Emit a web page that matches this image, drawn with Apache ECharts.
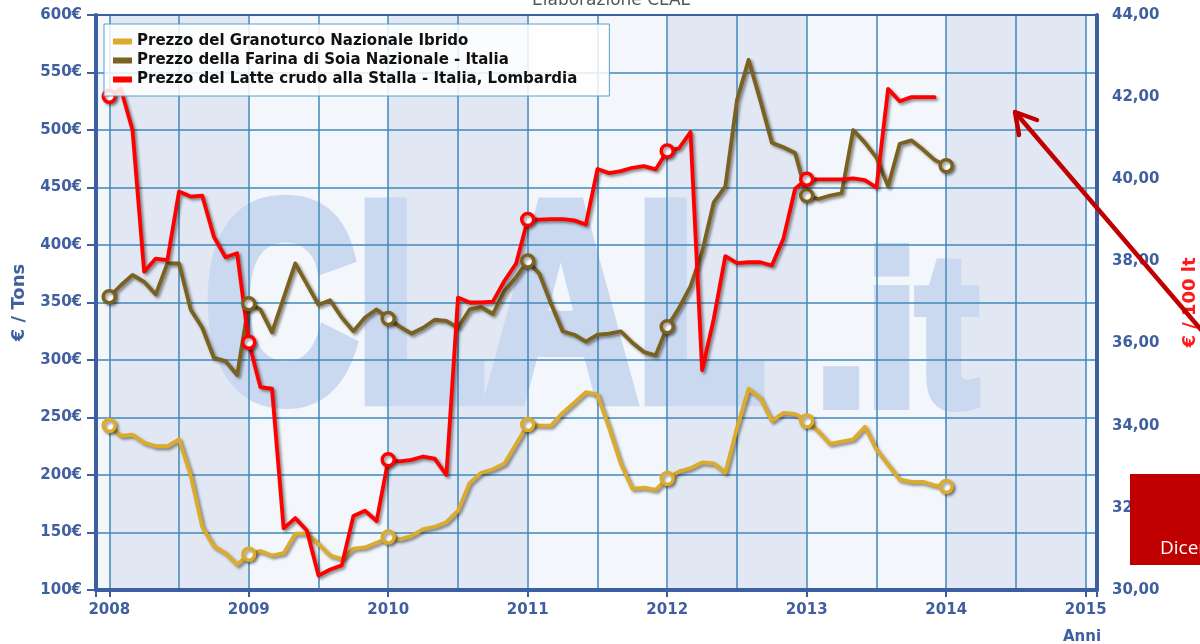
<!DOCTYPE html>
<html>
<head>
<meta charset="utf-8">
<title>Elaborazione CLAL</title>
<script src="https://cdn.jsdelivr.net/npm/echarts@6/dist/echarts.min.js"></script>
<style>
html, body { margin: 0; padding: 0; background: #fff; }
#container { width: 1200px; height: 644px; }
</style>
</head>
<body>
<div id="container"></div>
<script>
// dati mensili da gennaio 2008
var annoInizio = 2008;
var anni = [2008, 2009, 2010, 2011, 2012, 2013, 2014, 2015];
var nomi = ['Prezzo del Granoturco Nazionale Ibrido', 'Prezzo della Farina di Soia Nazionale - Italia', 'Prezzo del Latte crudo alla Stalla - Italia, Lombardia'];
var colori = ['#dcab2a', '#7a6120', '#ff0000'];

// €/ton
var granoturco = [243, 234, 235, 228, 225, 225, 231, 200, 155, 138, 132, 122,
    131, 134, 130, 132, 149, 149, 140, 130, 127, 136, 137, 141,
    146, 144, 147, 153, 155, 159, 169, 193, 202, 205, 210, 227,
    244, 243, 243, 254, 263, 272, 270, 241, 210, 188, 189, 187,
    197, 203, 206, 211, 210, 202, 241, 275, 267, 247, 254, 253,
    247, 238, 227, 229, 231, 242, 222, 209, 196, 194, 194, 191,
    190];
// €/ton
var soia = [355, 365, 374, 368, 357, 384, 384, 344, 328, 302, 299, 287,
    349, 344, 324, 354, 384, 366, 348, 352, 337, 325, 337, 344,
    336, 329, 323, 328, 335, 334, 328, 344, 346, 340, 360, 372,
    386, 375, 349, 325, 322, 316, 322, 323, 325, 315, 307, 304,
    329, 345, 364, 394, 437, 451, 526, 561, 526, 489, 485, 480,
    443, 440, 443, 445, 500, 489, 476, 451, 488, 491, 483, 474,
    469];
// €/100 lt
var latte = [42.02, 42.2, 41.2, 37.75, 38.07, 38.03, 39.7, 39.58, 39.6, 38.6, 38.1, 38.2,
    36.03, 34.94, 34.9, 31.5, 31.75, 31.45, 30.35, 30.5, 30.6, 31.8, 31.93, 31.68,
    33.17, 33.13, 33.17, 33.25, 33.2, 32.8, 37.12, 37.0, 37.0, 37.02, 37.53, 37.95,
    39.02, 39.02, 39.03, 39.03, 39.0, 38.9, 40.25, 40.15, 40.2, 40.28, 40.32, 40.24,
    40.69, 40.75, 41.15, 35.35, 36.6, 38.13, 37.96, 37.98, 37.98, 37.9, 38.56, 39.77,
    40.0, 40.0, 40.0, 40.0, 40.02, 39.98, 39.8, 42.2, 41.9, 42.0, 42.0, 42.0];

var coloreAssi = '#3b5fa0';
var coloreTesto = '#405f9f';
var coloreGriglia = '#4289b8';
var coloreLogo = '#cbd9f0';

function punti(valori, colore) {
    return valori.map(function (v, i) {
        var p = { value: [annoInizio + i / 12, v] };
        if (i % 12 === 0) {
            p.symbol = 'circle';
            p.itemStyle = { color: '#fff', borderColor: colore, borderWidth: 3.5 };
        } else {
            p.symbol = 'none';
        }
        return p;
    });
}

function linea(nome, valori, colore, yIdx) {
    return {
        name: nome,
        type: 'line',
        yAxisIndex: yIdx,
        z: 5,
        symbolSize: 12,
        data: punti(valori, colore),
        itemStyle: { color: colore, shadowColor: 'rgba(0,0,0,0.4)', shadowBlur: 3, shadowOffsetX: 2, shadowOffsetY: 2 },
        lineStyle: { width: 3.8, color: colore, join: 'round', cap: 'round', shadowColor: 'rgba(0,0,0,0.45)', shadowBlur: 3, shadowOffsetX: 2, shadowOffsetY: 2 },
        emphasis: { disabled: true }
    };
}

var dom = document.getElementById('container');
var myChart = echarts.init(dom);
var xMin = 2007.905, xMax = 2015.081;
var font = '"DejaVu Sans", Verdana, sans-serif';

var option = {
    animation: false,
    backgroundColor: '#fff',
    title: {
        text: 'Elaborazione CLAL',
        left: 527,
        top: -13,
        textStyle: { fontSize: 17, fontWeight: 'normal', color: '#555', fontFamily: font }
    },
    legend: {
        orient: 'vertical',
        left: 104,
        top: 24,
        z: 10,
        padding: [10, 32, 9, 9],
        itemGap: 4,
        itemWidth: 19,
        itemHeight: 6,
        icon: 'rect',
        backgroundColor: 'rgba(255,255,255,0.85)',
        borderColor: '#5aa0c8',
        borderWidth: 1,
        textStyle: { fontSize: 15, fontWeight: 'bold', color: '#111', fontFamily: font },
        data: nomi.map(function (n, i) { return { name: n, itemStyle: { color: colori[i] } }; })
    },
    grid: {
        left: 96, right: 103, top: 15, bottom: 54,
        show: true,
        z: 0,
        backgroundColor: '#f3f6fb',
        borderWidth: 0,
        outerBoundsMode: 'none'
    },
    xAxis: [
        {
            type: 'value', min: xMin, max: xMax, position: 'bottom', z: 3,
            minInterval: 0.5, maxInterval: 0.5,
            axisLine: { onZero: false, lineStyle: { color: coloreAssi, width: 4 } },
            axisTick: { show: false },
            axisLabel: { show: false },
            splitLine: { show: true, lineStyle: { color: coloreGriglia, width: 1.5 } }
        },
        {
            type: 'value', min: xMin, max: xMax, position: 'bottom', z: 1,
            minInterval: 1, maxInterval: 1,
            axisLine: { show: false, onZero: false },
            axisTick: { show: true, length: 7, lineStyle: { color: coloreAssi, width: 2 } },
            axisLabel: {
                margin: 13, fontSize: 15, fontWeight: 'bold', color: coloreTesto, fontFamily: font,
                formatter: function (v) {
                    var a = Math.round(v);
                    return (Math.abs(v - a) < 1e-6 && anni.indexOf(a) >= 0) ? String(a) : '';
                }
            },
            splitLine: { show: false },
            splitArea: { show: true, areaStyle: { color: ['#f3f6fb', '#e1e8f3'] } }
        },
        {
            type: 'value', min: xMin, max: xMax, position: 'top', z: 3,
            axisLine: { onZero: false, lineStyle: { color: coloreAssi, width: 2 } },
            axisTick: { show: false }, axisLabel: { show: false }, splitLine: { show: false }
        }
    ],
    yAxis: [
        {
            type: 'value', min: 100, max: 600, interval: 50, position: 'left', z: 3,
            name: '€ / Tons', nameLocation: 'middle', nameGap: 68, nameRotate: 90,
            nameTextStyle: { fontSize: 18, fontWeight: 'bold', color: coloreTesto, fontFamily: font },
            axisLine: { show: true, lineStyle: { color: coloreAssi, width: 4 } },
            axisTick: { show: true, length: 9, lineStyle: { color: coloreAssi, width: 2 } },
            axisLabel: { margin: 14, fontSize: 15, fontWeight: 'bold', color: coloreTesto, fontFamily: font, formatter: function (v) { return v + '€'; } },
            splitLine: { show: true, lineStyle: { color: coloreGriglia, width: 1.5 } }
        },
        {
            type: 'value', min: 30, max: 44, interval: 2, position: 'right', z: 3,
            name: '€ / 100 lt', nameLocation: 'middle', nameGap: 84, nameRotate: 90,
            nameTextStyle: { fontSize: 18, fontWeight: 'bold', color: '#ff1a1a', fontFamily: font },
            axisLine: { show: true, lineStyle: { color: coloreAssi, width: 4 } },
            axisTick: { show: false },
            axisLabel: { margin: 15, fontSize: 15, fontWeight: 'bold', color: coloreTesto, fontFamily: font, formatter: function (v) { return v.toFixed(2).replace('.', ','); } },
            splitLine: { show: false }
        }
    ],
    graphic: [
        {
            type: 'text', x: 205, y: 321, z: 2, scaleX: 0.75, silent: true,
            style: { text: 'CLAL', font: 'bold 280px "Liberation Sans", Arial', fill: coloreLogo, stroke: coloreLogo, lineWidth: 16, lineJoin: 'round', textAlign: 'left', textVerticalAlign: 'middle' }
        },
        {
            type: 'text', x: 816, y: 345, z: 2, scaleX: 0.85, silent: true,
            style: { text: '.it', font: 'bold 214px "Liberation Sans", Arial', fill: coloreLogo, stroke: coloreLogo, lineWidth: 12, lineJoin: 'round', textAlign: 'left', textVerticalAlign: 'middle' }
        },
        {
            type: 'text', x: 1082, y: 637, z: 20,
            style: { text: 'Anni', font: 'bold 15px ' + font, fill: coloreTesto, textAlign: 'center', textVerticalAlign: 'middle' }
        },
        {
            type: 'polyline', z: 20,
            shape: { points: [[1215, 346], [1015, 112]] },
            style: { stroke: '#c00000', lineWidth: 4.5, fill: null }
        },
        {
            type: 'polyline', z: 20,
            shape: { points: [[1019, 135], [1015, 112], [1037, 120]] },
            style: { stroke: '#c00000', lineWidth: 4.5, fill: null, lineCap: 'round', lineJoin: 'round' }
        },
        {
            type: 'rect', z: 20,
            shape: { x: 1130, y: 474, width: 80, height: 91 },
            style: { fill: '#c00000' }
        },
        {
            type: 'text', x: 1160, y: 549, z: 21,
            style: { text: 'Dicembre', font: '19px "Open Sans", sans-serif', fill: '#fff', textAlign: 'left', textVerticalAlign: 'middle' }
        }
    ],
    series: [
        linea(nomi[0], granoturco, colori[0], 0),
        linea(nomi[1], soia, colori[1], 0),
        linea(nomi[2], latte, colori[2], 1)
    ]
};
myChart.setOption(option, true);
</script>
</body>
</html>
